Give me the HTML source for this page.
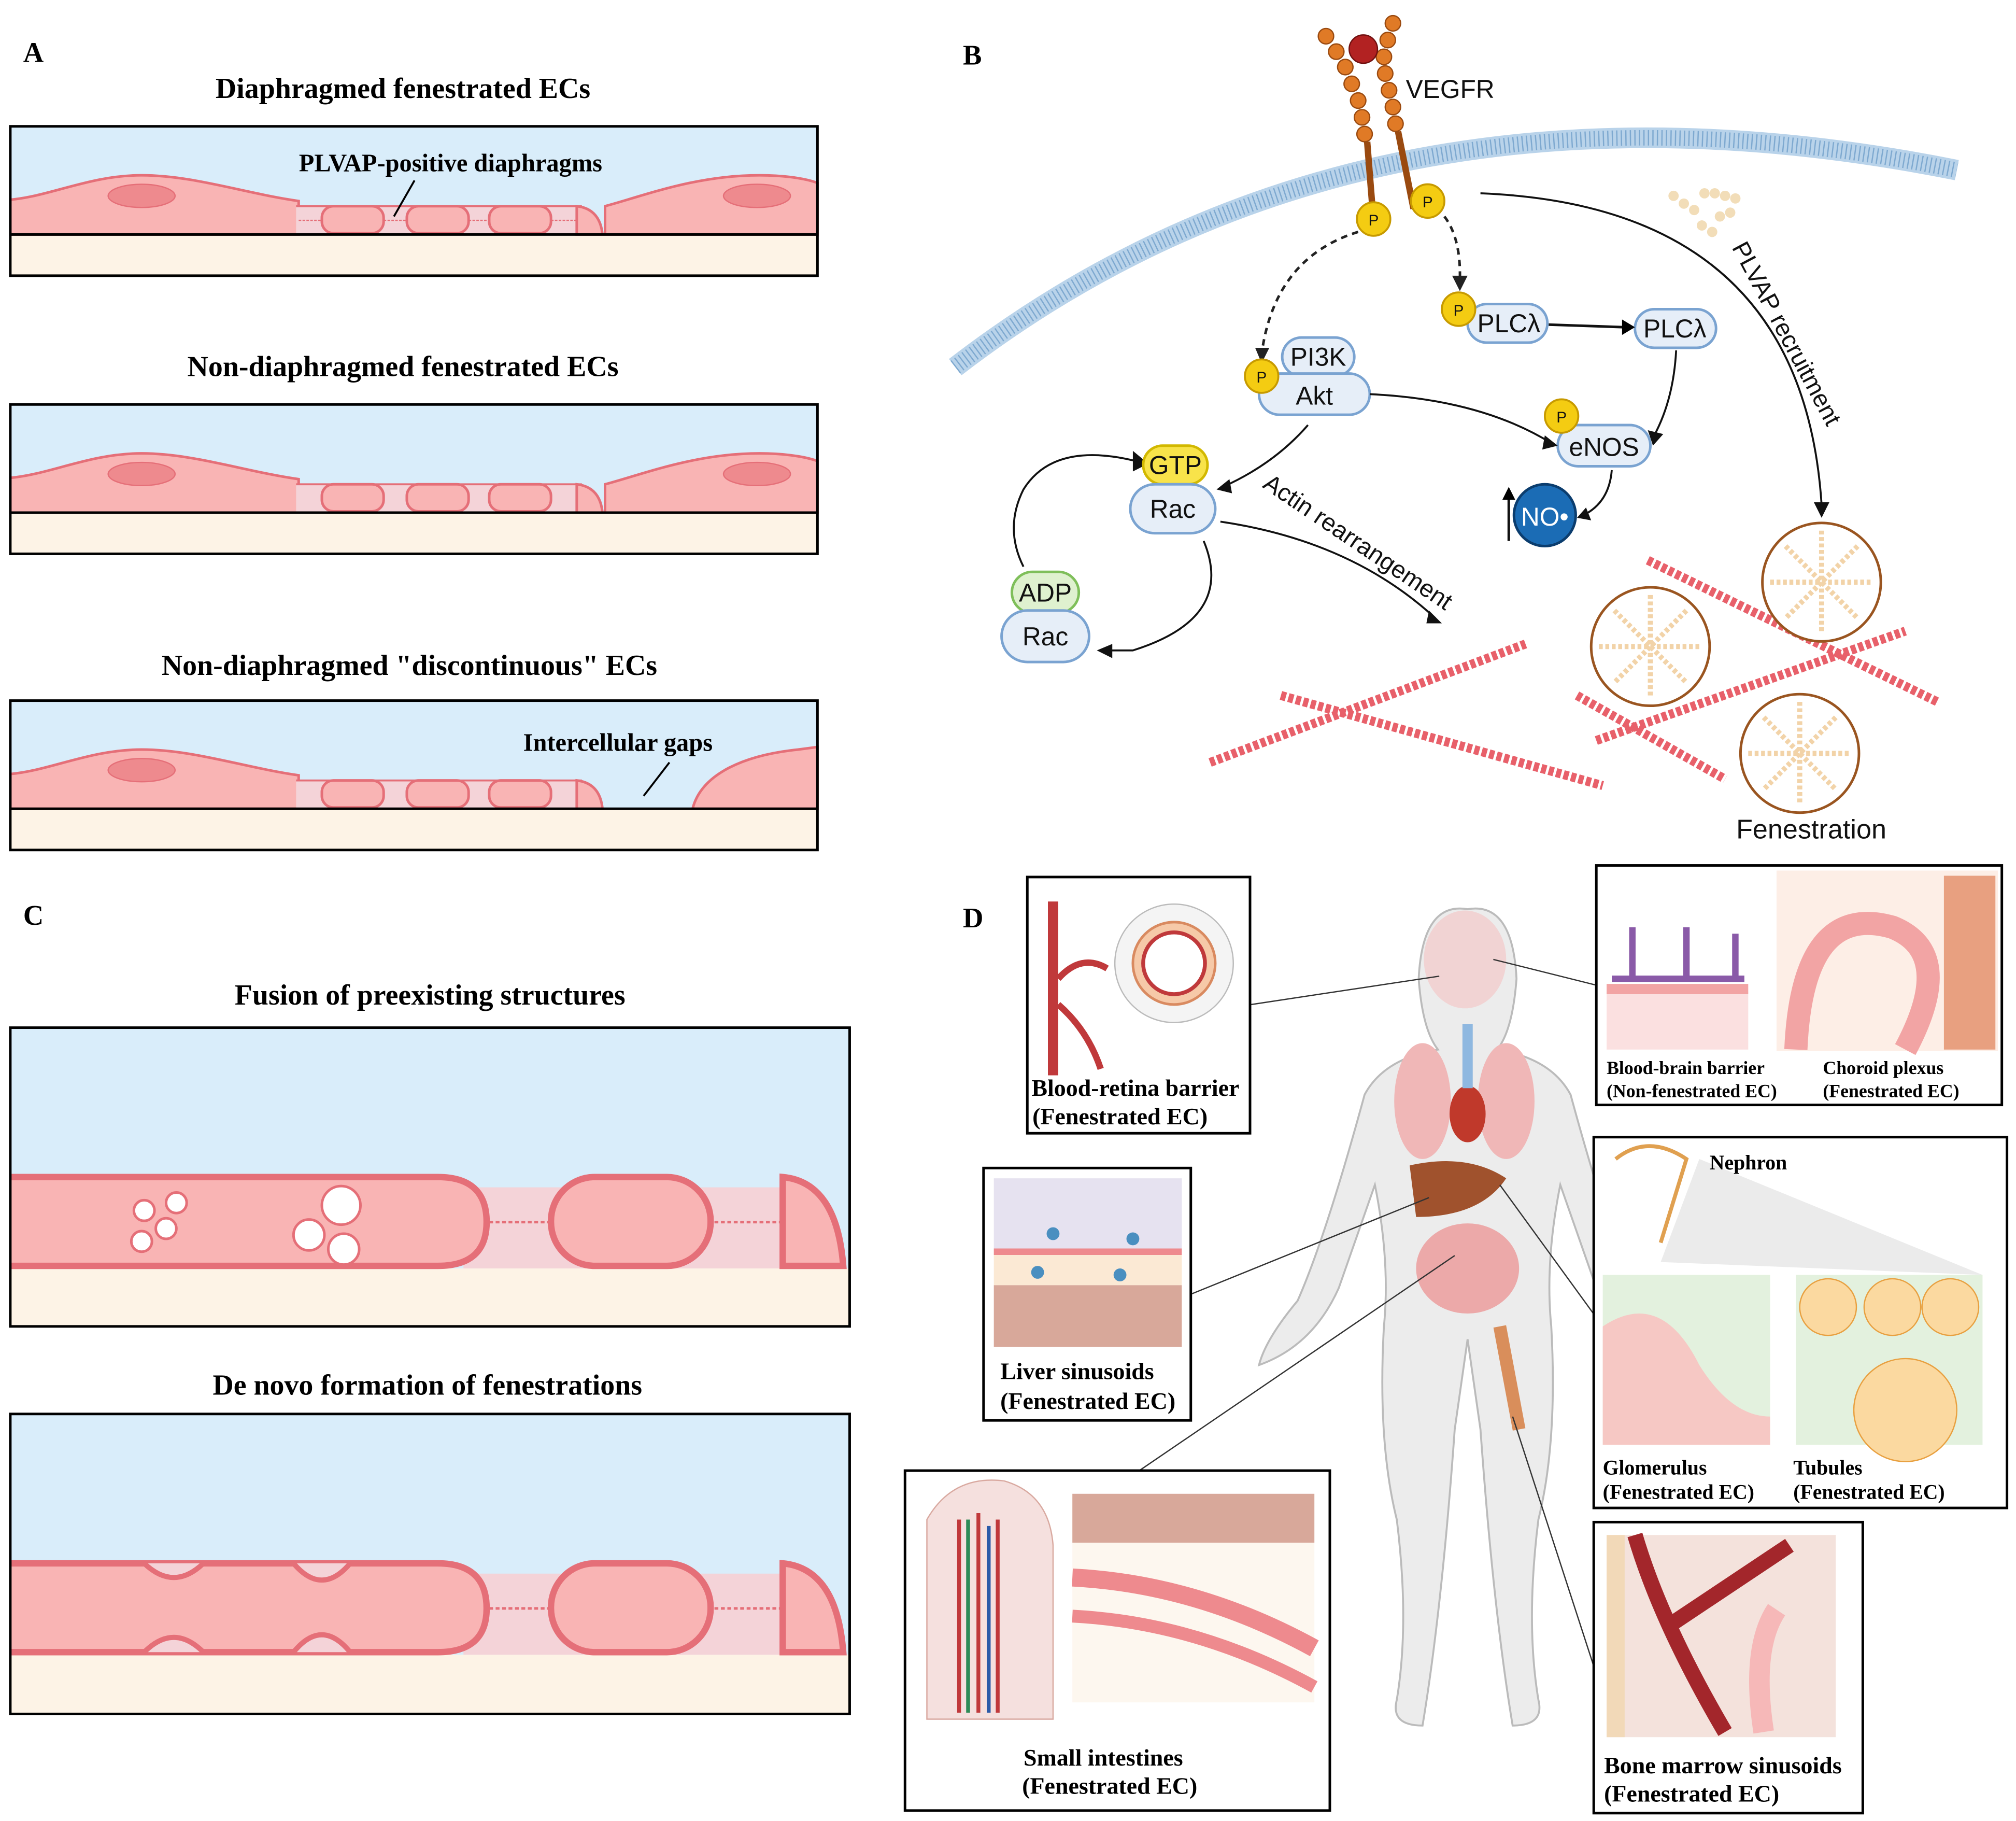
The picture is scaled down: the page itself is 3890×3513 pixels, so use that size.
<!DOCTYPE html>
<html><head><meta charset="utf-8"><style>html,body{margin:0;padding:0;background:#fff}svg{display:block}</style></head><body>
<svg width="3890" height="3513" viewBox="0 0 1566 1414" xmlns="http://www.w3.org/2000/svg">
<defs>
<g id="cellA">
<path d="M8,155 C40,152 70,136 110,136 C150,136 190,150 232,156 L232,182 L8,182 Z" fill="#f9b4b4" stroke="#e56f78" stroke-width="2"/>
<ellipse cx="110" cy="152" rx="26" ry="9" fill="#ee8a8e" stroke="#e56f78"/>
<rect x="230" y="160" width="222" height="22" fill="#f4d3d8"/>
<line x1="230" y1="160" x2="452" y2="160" stroke="#e56f78" stroke-width="1.5"/>
<rect x="250" y="160" width="48" height="21" rx="9" fill="#f9b4b4" stroke="#e56f78" stroke-width="2"/>
<rect x="316" y="160" width="48" height="21" rx="9" fill="#f9b4b4" stroke="#e56f78" stroke-width="2"/>
<rect x="380" y="160" width="48" height="21" rx="9" fill="#f9b4b4" stroke="#e56f78" stroke-width="2"/>
<path d="M448,160 Q466,162 468,182 L448,182 Z" fill="#f9b4b4" stroke="#e56f78" stroke-width="2"/>
</g>
</defs>
<style>
.t{font-family:"Liberation Serif",serif;font-weight:bold;fill:#000}
.s{font-family:"Liberation Sans",sans-serif;fill:#111}
.pill{fill:#e6eef8;stroke:#7aa3d1;stroke-width:2}
.P{fill:#f4cc12;stroke:#c79a00;stroke-width:1.5}
</style>

<!-- PANEL A -->
<text class="t" x="18" y="48" font-size="22">A</text>
<text class="t" x="313" y="76" font-size="22.5" text-anchor="middle">Diaphragmed fenestrated ECs</text>
<rect x="8" y="98" width="627" height="84" fill="#d9edfa"/><rect x="8" y="182" width="627" height="32" fill="#fdf3e6"/>
<use href="#cellA"/>
<path d="M470,182 L470,160 C500,152 540,136 590,136 C615,136 630,140 635,142 L635,182 Z" fill="#f9b4b4" stroke="#e56f78" stroke-width="2"/>
<ellipse cx="588" cy="152" rx="26" ry="9" fill="#ee8a8e" stroke="#e56f78"/>
<g stroke="#e56f78" stroke-width="1" stroke-dasharray="2 1"><line x1="232" y1="171" x2="250" y2="171"/><line x1="298" y1="171" x2="316" y2="171"/><line x1="364" y1="171" x2="380" y2="171"/><line x1="428" y1="171" x2="448" y2="171"/></g>
<line x1="8" y1="182" x2="635" y2="182" stroke="#000" stroke-width="2"/>
<rect x="8" y="98" width="627" height="116" fill="none" stroke="#000" stroke-width="2"/>
<text class="t" x="350" y="133" font-size="19.5" text-anchor="middle">PLVAP-positive diaphragms</text>
<line x1="322" y1="140" x2="306" y2="168" stroke="#000" stroke-width="1.5"/>

<text class="t" x="313" y="292" font-size="22.5" text-anchor="middle">Non-diaphragmed fenestrated ECs</text>
<rect x="8" y="314" width="627" height="84" fill="#d9edfa"/><rect x="8" y="398" width="627" height="32" fill="#fdf3e6"/>
<use href="#cellA" transform="translate(0,216)"/>
<path d="M470,398 L470,376 C500,368 540,352 590,352 C615,352 630,356 635,358 L635,398 Z" fill="#f9b4b4" stroke="#e56f78" stroke-width="2"/>
<ellipse cx="588" cy="368" rx="26" ry="9" fill="#ee8a8e" stroke="#e56f78"/>
<line x1="8" y1="398" x2="635" y2="398" stroke="#000" stroke-width="2"/>
<rect x="8" y="314" width="627" height="116" fill="none" stroke="#000" stroke-width="2"/>

<text class="t" x="318" y="524" font-size="22.5" text-anchor="middle">Non-diaphragmed "discontinuous" ECs</text>
<rect x="8" y="544" width="627" height="84" fill="#d9edfa"/><rect x="8" y="628" width="627" height="32" fill="#fdf3e6"/>
<use href="#cellA" transform="translate(0,446)"/>
<path d="M538,628 C545,600 580,586 620,582 L635,580 L635,628 Z" fill="#f9b4b4" stroke="#e56f78" stroke-width="2"/>
<line x1="8" y1="628" x2="635" y2="628" stroke="#000" stroke-width="2"/>
<rect x="8" y="544" width="627" height="116" fill="none" stroke="#000" stroke-width="2"/>
<text class="t" x="480" y="583" font-size="19.5" text-anchor="middle">Intercellular gaps</text>
<line x1="520" y1="592" x2="500" y2="618" stroke="#000" stroke-width="1.5"/>

<!-- PANEL C -->
<text class="t" x="18" y="718" font-size="22">C</text>
<text class="t" x="334" y="780" font-size="22.5" text-anchor="middle">Fusion of preexisting structures</text>
<rect x="8" y="798" width="652" height="187" fill="#d9edfa"/><rect x="8" y="985" width="652" height="45" fill="#fdf3e6"/>
<rect x="360" y="922" width="250" height="63" fill="#f4d3d8"/>
<path d="M8,914 L340,914 Q378,914 378,949 Q378,983 340,983 L8,983" fill="#f9b4b4" stroke="#e56f78" stroke-width="5"/>
<rect x="428" y="914" width="124" height="69" rx="34" fill="#f9b4b4" stroke="#e56f78" stroke-width="5"/>
<path d="M608,914 Q650,918 655,983 L608,983 Z" fill="#f9b4b4" stroke="#e56f78" stroke-width="5"/>
<g stroke="#e56f78" stroke-width="2" stroke-dasharray="3 2"><line x1="380" y1="949" x2="428" y2="949"/><line x1="555" y1="949" x2="606" y2="949"/></g>
<g fill="#fff" stroke="#e56f78" stroke-width="2"><circle cx="112" cy="940" r="8"/><circle cx="137" cy="934" r="8"/><circle cx="129" cy="954" r="8"/><circle cx="110" cy="964" r="8"/><circle cx="265" cy="936" r="15"/><circle cx="240" cy="959" r="12"/><circle cx="267" cy="970" r="12"/></g>
<rect x="8" y="798" width="652" height="232" fill="none" stroke="#000" stroke-width="2"/>

<text class="t" x="332" y="1083" font-size="22.5" text-anchor="middle">De novo formation of fenestrations</text>
<rect x="8" y="1098" width="652" height="187" fill="#d9edfa"/><rect x="8" y="1285" width="652" height="46" fill="#fdf3e6"/>
<rect x="360" y="1222" width="250" height="63" fill="#f4d3d8"/>
<path d="M8,1214 L340,1214 Q378,1214 378,1249 Q378,1283 340,1283 L8,1283" fill="#f9b4b4" stroke="#e56f78" stroke-width="5"/>
<rect x="428" y="1214" width="124" height="69" rx="34" fill="#f9b4b4" stroke="#e56f78" stroke-width="5"/>
<path d="M608,1214 Q650,1218 655,1283 L608,1283 Z" fill="#f9b4b4" stroke="#e56f78" stroke-width="5"/>
<g fill="#f4d3d8" stroke="#e56f78" stroke-width="4"><path d="M112,1214 Q135,1236 158,1214"/><path d="M112,1283 Q135,1260 158,1283"/><path d="M228,1214 Q250,1240 272,1214"/><path d="M228,1283 Q250,1256 272,1283"/></g>
<g stroke="#e56f78" stroke-width="2" stroke-dasharray="3 2"><line x1="380" y1="1249" x2="428" y2="1249"/><line x1="555" y1="1249" x2="606" y2="1249"/></g>
<rect x="8" y="1098" width="652" height="233" fill="none" stroke="#000" stroke-width="2"/>

<!-- PANEL B -->
<text class="t" x="748" y="50" font-size="22">B</text>
<path d="M742,285 Q1060,40 1520,132" fill="none" stroke="#b9d3ea" stroke-width="16"/>
<path d="M742,285 Q1060,40 1520,132" fill="none" stroke="#7ea9d0" stroke-width="12" stroke-dasharray="1 2.5"/>
<g fill="#e07a26" stroke="#9a4a10" stroke-width="1">
<circle cx="1030" cy="28" r="6"/><circle cx="1038" cy="40" r="6"/><circle cx="1045" cy="52" r="6"/><circle cx="1050" cy="65" r="6"/><circle cx="1055" cy="78" r="6"/><circle cx="1058" cy="91" r="6"/><circle cx="1060" cy="104" r="6"/>
<circle cx="1082" cy="18" r="6"/><circle cx="1078" cy="31" r="6"/><circle cx="1075" cy="44" r="6"/><circle cx="1076" cy="57" r="6"/><circle cx="1079" cy="70" r="6"/><circle cx="1082" cy="83" r="6"/><circle cx="1084" cy="96" r="6"/>
</g>
<circle cx="1059" cy="38" r="11" fill="#b22222" stroke="#701010"/>
<g stroke="#9a4a10" stroke-width="5" fill="none"><path d="M1062,110 L1066,160"/><path d="M1086,102 L1098,162"/></g>
<text class="s" x="1092" y="76" font-size="20">VEGFR</text>
<circle cx="1067" cy="170" r="13" class="P"/><text class="s" x="1067" y="175" font-size="12" text-anchor="middle">P</text>
<circle cx="1109" cy="156" r="13" class="P"/><text class="s" x="1109" y="161" font-size="12" text-anchor="middle">P</text>
<g fill="#f2ddb8"><circle cx="1300" cy="152" r="4"/><circle cx="1308" cy="158" r="4"/><circle cx="1316" cy="163" r="4"/><circle cx="1324" cy="150" r="4"/><circle cx="1332" cy="150" r="4"/><circle cx="1340" cy="152" r="4"/><circle cx="1348" cy="154" r="4"/><circle cx="1322" cy="175" r="4"/><circle cx="1330" cy="180" r="4"/><circle cx="1336" cy="168" r="4"/><circle cx="1344" cy="165" r="4"/></g>
<g fill="none" stroke="#222" stroke-width="2" stroke-dasharray="5 4"><path d="M1055,180 Q990,200 980,275"/><path d="M1122,168 Q1135,185 1134,218"/></g>
<path d="M975,270 L980,282 L986,270 Z" fill="#222"/><path d="M1128,214 L1134,226 L1140,214 Z" fill="#222"/>
<rect x="996" y="262" width="56" height="30" rx="15" class="pill"/><text class="s" x="1024" y="284" font-size="20" text-anchor="middle">PI3K</text>
<rect x="978" y="290" width="86" height="32" rx="16" class="pill"/><text class="s" x="1021" y="314" font-size="20" text-anchor="middle">Akt</text>
<circle cx="980" cy="292" r="13" class="P"/><text class="s" x="980" y="297" font-size="12" text-anchor="middle">P</text>
<rect x="1140" y="236" width="62" height="30" rx="15" class="pill"/><text class="s" x="1172" y="258" font-size="20" text-anchor="middle">PLCλ</text>
<circle cx="1133" cy="240" r="13" class="P"/><text class="s" x="1133" y="245" font-size="12" text-anchor="middle">P</text>
<rect x="1270" y="240" width="63" height="30" rx="15" class="pill"/><text class="s" x="1301" y="262" font-size="20" text-anchor="middle">PLCλ</text>
<line x1="1203" y1="252" x2="1262" y2="254" stroke="#111" stroke-width="2"/><path d="M1260,248 L1270,254 L1260,260 Z"/>
<rect x="1210" y="330" width="72" height="32" rx="16" class="pill"/><text class="s" x="1246" y="354" font-size="20" text-anchor="middle">eNOS</text>
<circle cx="1213" cy="323" r="13" class="P"/><text class="s" x="1213" y="328" font-size="12" text-anchor="middle">P</text>
<g fill="none" stroke="#111" stroke-width="1.5"><path d="M1064,306 Q1150,310 1205,344"/><path d="M1302,272 Q1300,310 1285,338"/><path d="M1252,365 Q1250,390 1230,400"/><path d="M1016,330 Q990,360 950,378"/><path d="M948,405 Q1050,420 1115,480"/><path d="M1150,150 Q1400,160 1415,392"/><path d="M890,360 Q820,340 795,380 Q780,410 795,440"/><path d="M935,420 Q960,480 880,505 L860,505"/></g>
<g fill="#111"><path d="M1200,338 L1210,346 L1198,349 Z"/><path d="M1280,334 L1284,346 L1292,337 Z"/><path d="M1232,394 L1225,402 L1236,404 Z"/><path d="M955,372 L945,380 L957,383 Z"/><path d="M1110,474 L1120,484 L1108,484 Z"/><path d="M1409,390 L1415,402 L1421,390 Z"/><path d="M880,350 L892,360 L880,366 Z"/><path d="M864,500 L852,505 L864,511 Z"/></g>
<circle cx="1200" cy="400" r="24" fill="#1b6cb5" stroke="#0b3d6e" stroke-width="2"/><text class="s" x="1200" y="408" font-size="20" text-anchor="middle" style="fill:#fff">NO•</text>
<line x1="1172" y1="420" x2="1172" y2="384" stroke="#111" stroke-width="2"/><path d="M1167,388 L1172,378 L1177,388 Z"/>
<rect x="888" y="346" width="50" height="30" rx="15" fill="#f8e34a" stroke="#d2b800" stroke-width="2"/><text class="s" x="913" y="368" font-size="20" text-anchor="middle">GTP</text>
<rect x="878" y="376" width="66" height="38" rx="19" class="pill"/><text class="s" x="911" y="402" font-size="20" text-anchor="middle">Rac</text>
<rect x="786" y="444" width="52" height="32" rx="16" fill="#dff1cf" stroke="#7fbf5a" stroke-width="2"/><text class="s" x="812" y="467" font-size="20" text-anchor="middle">ADP</text>
<rect x="778" y="474" width="68" height="40" rx="20" class="pill"/><text class="s" x="812" y="501" font-size="20" text-anchor="middle">Rac</text>
<text class="s" x="980" y="378" font-size="19" transform="rotate(34 980 378)">Actin rearrangement</text>
<text class="s" x="1345" y="192" font-size="19" transform="rotate(62 1345 192)">PLVAP recruitment</text>
<g stroke="#e8606a" stroke-width="7" stroke-dasharray="4 2"><line x1="995" y1="540" x2="1245" y2="610"/><line x1="940" y1="592" x2="1185" y2="500"/><line x1="1280" y1="435" x2="1505" y2="545"/><line x1="1240" y1="575" x2="1480" y2="490"/><line x1="1225" y1="540" x2="1340" y2="605"/></g>
<g fill="#fff" stroke="#9a5520" stroke-width="2"><circle cx="1415" cy="452" r="46"/><circle cx="1282" cy="502" r="46"/><circle cx="1398" cy="585" r="46"/></g>
<g stroke="#f2d3a8" stroke-width="4" stroke-dasharray="3 2">
<path d="M1375,452 H1455 M1415,412 V492 M1387,424 L1443,480 M1443,424 L1387,480"/>
<path d="M1242,502 H1322 M1282,462 V542 M1254,474 L1310,530 M1310,474 L1254,530"/>
<path d="M1358,585 H1438 M1398,545 V625 M1370,557 L1426,613 M1426,557 L1370,613"/></g>
<text class="s" x="1407" y="651" font-size="21" text-anchor="middle">Fenestration</text>

<!-- PANEL D -->
<text class="t" x="748" y="720" font-size="22">D</text>
<path d="M1140,706 Q1175,700 1178,760 Q1175,800 1163,815 Q1205,822 1220,850 Q1250,960 1272,1010 Q1292,1045 1287,1060 Q1257,1040 1240,1000 L1212,920 Q1200,980 1205,1030 Q1210,1120 1195,1180 Q1185,1260 1195,1320 Q1200,1340 1175,1340 Q1160,1250 1150,1110 L1140,1040 L1130,1110 Q1120,1250 1105,1340 Q1080,1340 1085,1320 Q1095,1260 1085,1180 Q1070,1120 1075,1030 Q1080,980 1068,920 L1040,1000 Q1020,1045 978,1060 Q983,1040 1008,1010 Q1030,960 1060,850 Q1075,822 1117,815 Q1105,800 1102,760 Q1105,700 1140,706 Z" fill="#ececec" stroke="#bbb" stroke-width="1.5"/>
<ellipse cx="1138" cy="745" rx="32" ry="38" fill="#f3c9c9" opacity="0.7"/>
<ellipse cx="1105" cy="855" rx="22" ry="45" fill="#f0b7b7"/><ellipse cx="1170" cy="855" rx="22" ry="45" fill="#f0b7b7"/>
<ellipse cx="1140" cy="865" rx="14" ry="22" fill="#c0392b"/>
<path d="M1095,905 Q1140,895 1170,915 Q1150,945 1100,945 Z" fill="#a0522d"/>
<ellipse cx="1140" cy="985" rx="40" ry="35" fill="#eca9a9"/>
<rect x="1136" y="795" width="8" height="50" fill="#8fb8e0"/>
<path d="M1165,1030 L1180,1110" stroke="#d98e5b" stroke-width="10"/>
<g stroke="#333" stroke-width="1"><line x1="972" y1="780" x2="1118" y2="758"/><line x1="1160" y1="745" x2="1240" y2="765"/><line x1="925" y1="1005" x2="1110" y2="930"/><line x1="885" y1="1142" x2="1130" y2="975"/><line x1="1165" y1="920" x2="1245" y2="1030"/><line x1="1175" y1="1100" x2="1240" y2="1300"/></g>

<rect x="798" y="681" width="173" height="199" fill="#fff" stroke="#000" stroke-width="2"/>
<path d="M818,700 V835" stroke="#c0393b" stroke-width="8"/><path d="M822,760 Q840,740 860,752 M822,780 Q845,800 855,830" stroke="#c0393b" stroke-width="5" fill="none"/>
<circle cx="912" cy="748" r="46" fill="#f4f4f4" stroke="#bbb"/><circle cx="912" cy="748" r="32" fill="#f6c9a8" stroke="#d98a60" stroke-width="2"/><circle cx="912" cy="748" r="24" fill="#fff" stroke="#c0393b" stroke-width="3"/>
<text class="t" x="882" y="851" font-size="18.5" text-anchor="middle">Blood-retina barrier</text>
<text class="t" x="870" y="873" font-size="18.5" text-anchor="middle">(Fenestrated EC)</text>

<rect x="1240" y="672" width="315" height="186" fill="#fff" stroke="#000" stroke-width="2"/>
<rect x="1248" y="770" width="110" height="45" fill="#fbe0e0"/>
<path d="M1248,768 H1358" stroke="#f2a4a4" stroke-width="8"/>
<g stroke="#8a5aa8" stroke-width="5" fill="none"><path d="M1268,760 V720 M1310,760 V720 M1348,760 V725 M1252,760 H1355"/></g>
<rect x="1380" y="676" width="172" height="140" fill="#fdeee6"/>
<path d="M1395,815 Q1400,700 1470,720 Q1520,740 1480,815" fill="none" stroke="#f2a4a4" stroke-width="18"/>
<rect x="1510" y="680" width="40" height="135" fill="#e8a080"/>
<text class="t" x="1248" y="834" font-size="14.4">Blood-brain barrier</text><text class="t" x="1248" y="852" font-size="14.4">(Non-fenestrated EC)</text>
<text class="t" x="1416" y="834" font-size="14.4">Choroid plexus</text><text class="t" x="1416" y="852" font-size="14.4">(Fenestrated EC)</text>

<rect x="764" y="907" width="161" height="196" fill="#fff" stroke="#000" stroke-width="2"/>
<rect x="772" y="915" width="146" height="58" fill="#e6e2f0"/><rect x="772" y="973" width="146" height="25" fill="#fbe9d4"/>
<rect x="772" y="998" width="146" height="48" fill="#d8a89a"/>
<path d="M772,972 H918" stroke="#ee8a8e" stroke-width="5"/>
<g fill="#4a8fc0"><circle cx="818" cy="958" r="5"/><circle cx="880" cy="962" r="5"/><circle cx="806" cy="988" r="5"/><circle cx="870" cy="990" r="5"/></g>
<text class="t" x="777" y="1071" font-size="18.5">Liver sinusoids</text><text class="t" x="777" y="1094" font-size="18.5">(Fenestrated EC)</text>

<rect x="1238" y="883" width="321" height="288" fill="#fff" stroke="#000" stroke-width="2"/>
<path d="M1255,900 Q1280,880 1310,900 L1290,965" fill="none" stroke="#e0a050" stroke-width="3"/>
<path d="M1290,980 L1540,990 L1320,900 Z" fill="#ddd" opacity="0.6"/>
<text class="t" x="1328" y="908" font-size="16">Nephron</text>
<rect x="1245" y="990" width="130" height="132" fill="#e3f1de"/><path d="M1245,1030 Q1290,1000 1320,1060 Q1345,1100 1375,1100 V1122 H1245 Z" fill="#f6c8c4"/>
<rect x="1395" y="990" width="145" height="132" fill="#e3f1de"/>
<g fill="#fbd9a0" stroke="#e8a040"><circle cx="1420" cy="1015" r="22"/><circle cx="1470" cy="1015" r="22"/><circle cx="1515" cy="1015" r="22"/><circle cx="1480" cy="1095" r="40"/></g>
<text class="t" x="1245" y="1145" font-size="16">Glomerulus</text><text class="t" x="1245" y="1164" font-size="16">(Fenestrated EC)</text>
<text class="t" x="1393" y="1145" font-size="16">Tubules</text><text class="t" x="1393" y="1164" font-size="16">(Fenestrated EC)</text>

<rect x="703" y="1142" width="330" height="264" fill="#fff" stroke="#000" stroke-width="2"/>
<path d="M720,1335 V1180 Q740,1145 780,1150 Q815,1160 818,1200 V1335 Z" fill="#f5e0de" stroke="#d9a9a0"/>
<path d="M745,1330 V1180 M760,1330 V1175 M775,1330 V1180" stroke="#c0393b" stroke-width="3"/><path d="M752,1330 V1180" stroke="#2e8b57" stroke-width="3"/><path d="M768,1330 V1185" stroke="#2b5aa8" stroke-width="3"/>
<rect x="833" y="1160" width="188" height="38" fill="#d8a89a"/>
<rect x="833" y="1198" width="188" height="124" fill="#fdf7ef"/>
<path d="M833,1225 Q930,1230 1021,1280" stroke="#ee8a8e" stroke-width="14" fill="none"/><path d="M833,1255 Q930,1260 1021,1310" stroke="#ee8a8e" stroke-width="10" fill="none"/>
<text class="t" x="857" y="1371" font-size="18.5" text-anchor="middle">Small intestines</text><text class="t" x="862" y="1393" font-size="18.5" text-anchor="middle">(Fenestrated EC)</text>

<rect x="1238" y="1182" width="209" height="226" fill="#fff" stroke="#000" stroke-width="2"/>
<rect x="1248" y="1192" width="178" height="157" fill="#f4e2dc"/><rect x="1248" y="1192" width="14" height="157" fill="#f2d9b8"/>
<path d="M1270,1192 Q1290,1260 1340,1345 M1300,1260 L1390,1200" stroke="#a3262b" stroke-width="12" fill="none"/>
<path d="M1370,1345 Q1360,1280 1380,1250" stroke="#f6b8b8" stroke-width="16" fill="none"/>
<text class="t" x="1246" y="1377" font-size="18.5">Bone marrow sinusoids</text><text class="t" x="1246" y="1399" font-size="18.5">(Fenestrated EC)</text>
</svg>
</body></html>
